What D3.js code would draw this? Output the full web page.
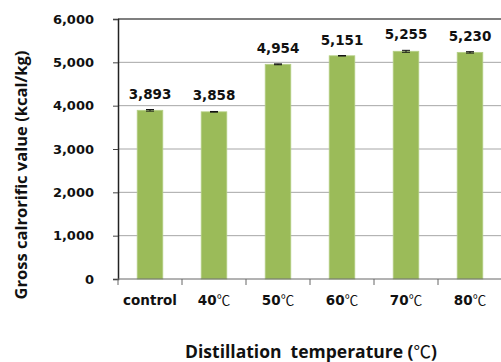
<!DOCTYPE html>
<html>
<head>
<meta charset="utf-8">
<script src="https://cdn.jsdelivr.net/npm/d3@7"></script>
<style>
  html, body { margin: 0; padding: 0; background: #fff; }
  svg { display: block; font-family: "DejaVu Sans", sans-serif; }
</style>
</head>
<body>
<svg id="chart" width="501" height="362"></svg>
<script>
// Gross calorific value by distillation temperature
const categories = ["control", "40℃", "50℃", "60℃", "70℃", "80℃"];
const values = [3893, 3858, 4954, 5151, 5255, 5230];
const errors = [18, 8, 10, 5, 22, 16];
const yTicks = [0, 1000, 2000, 3000, 4000, 5000, 6000];

const svg = d3.select("#chart");
const margin = { left: 118, right: -1, top: 19, bottom: 83 };
const W = 501, H = 362;
const CJK = "\"Noto Sans CJK KR\", sans-serif";
const LABEL_FONT = "\"DejaVu Sans\", sans-serif";
const TITLE_FONT = "\"Open Sans\", sans-serif";

const x = d3.scaleBand()
  .domain(categories)
  .range([margin.left, W - margin.right])
  .paddingInner(0.6)
  .paddingOuter(0.3);

const y = d3.scaleLinear().domain([0, 6000]).range([H - margin.bottom, margin.top]);

const fmt = d3.format(",");

// write a label, setting the ℃ sign in a CJK face
function degreeText(sel, str) {
  sel.text(null);
  const parts = str.split("℃");
  parts.forEach((p, i) => {
    if (p) sel.append("tspan").text(p);
    if (i < parts.length - 1) {
      sel.append("tspan").attr("font-family", CJK).attr("font-weight", 400).text("℃");
    }
  });
}

// gridlines
svg.append("g")
  .selectAll("line")
  .data(yTicks.filter(d => d > 0))
  .join("line")
  .attr("x1", margin.left).attr("x2", W)
  .attr("y1", d => y(d)).attr("y2", d => y(d))
  .attr("stroke", d => d === 6000 ? "#555" : "#a6a6a6")
  .attr("stroke-width", d => d === 6000 ? 1.5 : 1);

// bars
svg.append("g")
  .selectAll("rect")
  .data(values)
  .join("rect")
  .attr("x", (d, i) => x(categories[i]))
  .attr("y", d => y(d))
  .attr("width", x.bandwidth())
  .attr("height", d => y(0) - y(d))
  .attr("fill", "#9bbb59")
  .attr("stroke", "#b5cf86")
  .attr("stroke-width", 0.8);

// error bars
const eb = svg.append("g").attr("stroke", "#111").attr("stroke-width", 1);
values.forEach((v, i) => {
  const cx = x(categories[i]) + x.bandwidth() / 2;
  const hi = y(v + errors[i]), lo = y(v - errors[i]);
  eb.append("line").attr("x1", cx).attr("x2", cx).attr("y1", hi).attr("y2", lo);
  eb.append("line").attr("x1", cx - 4).attr("x2", cx + 4).attr("y1", hi).attr("y2", hi);
  eb.append("line").attr("x1", cx - 4).attr("x2", cx + 4).attr("y1", lo).attr("y2", lo);
});

// value labels
svg.append("g")
  .selectAll("text")
  .data(values)
  .join("text")
  .attr("x", (d, i) => x(categories[i]) + x.bandwidth() / 2)
  .attr("y", (d, i) => y(d + errors[i]) - 11)
  .attr("text-anchor", "middle")
  .attr("font-family", LABEL_FONT)
  .attr("font-size", 13.5)
  .attr("font-weight", 700)
  .attr("fill", "#111")
  .text(d => fmt(d));

// y axis
const yAxis = svg.append("g")
  .attr("transform", `translate(${margin.left},0)`)
  .call(d3.axisLeft(y).tickValues(yTicks).tickFormat(fmt).tickSize(5).tickPadding(19));
yAxis.attr("font-family", LABEL_FONT);
yAxis.select(".domain").attr("stroke", "#222").attr("stroke-width", 1.5);
yAxis.selectAll(".tick line").attr("stroke", "#444");
yAxis.selectAll(".tick text")
  .attr("font-size", 13).attr("font-weight", 700).attr("fill", "#111");

// x axis
const xAxis = svg.append("g")
  .attr("transform", `translate(0,${y(0)})`)
  .call(d3.axisBottom(x).tickSize(0).tickPadding(16));
xAxis.attr("font-family", LABEL_FONT);
xAxis.select(".domain").remove();
xAxis.append("line")
  .attr("x1", margin.left).attr("x2", W).attr("y1", 0).attr("y2", 0)
  .attr("stroke", "#666").attr("stroke-width", 1);
xAxis.selectAll(".tick text")
  .attr("font-size", 13.5).attr("font-weight", 700).attr("fill", "#111")
  .each(function(d) { degreeText(d3.select(this), d); });
// category separators
xAxis.selectAll("line.sep")
  .data(d3.range(categories.length + 1))
  .join("line")
  .attr("class", "sep")
  .attr("x1", i => margin.left + i * (W - margin.right - margin.left) / categories.length)
  .attr("x2", i => margin.left + i * (W - margin.right - margin.left) / categories.length)
  .attr("y1", 0).attr("y2", 6)
  .attr("stroke", "#666");

// axis titles
const xt = svg.append("text")
  .attr("x", 311).attr("y", 358)
  .attr("text-anchor", "middle")
  .attr("font-family", TITLE_FONT)
  .attr("font-size", 17.5).attr("font-weight", 700).attr("fill", "#111")
  .attr("xml:space", "preserve");
degreeText(xt, "Distillation  temperature (℃)");

svg.append("text")
  .attr("transform", "translate(27,175) rotate(-90)")
  .attr("text-anchor", "middle")
  .attr("font-family", TITLE_FONT)
  .attr("font-size", 16.5).attr("font-weight", 700).attr("fill", "#111")
  .text("Gross calrorific value (kcal/kg)");
</script>
</body>
</html>
